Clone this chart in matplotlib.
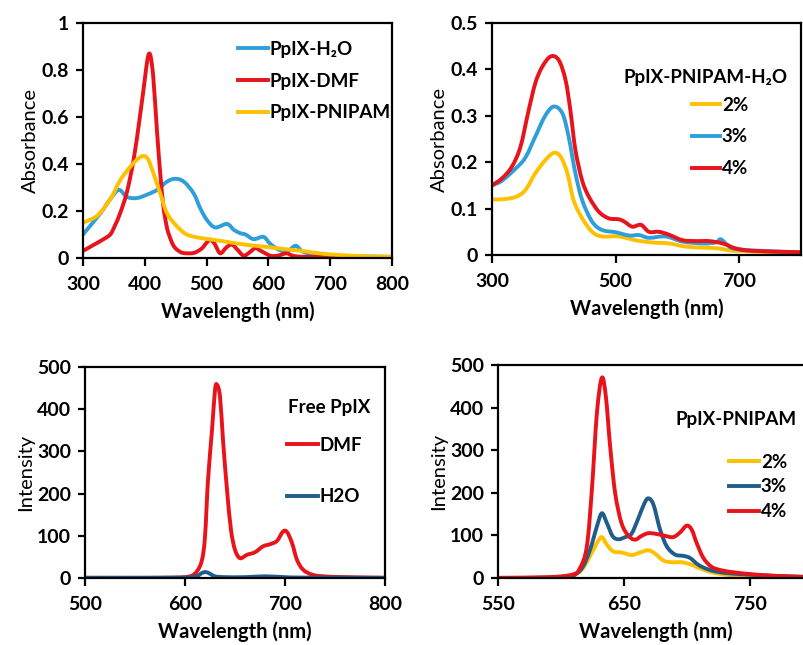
import matplotlib
matplotlib.use("Agg")
import numpy as np
import matplotlib.pyplot as plt
from matplotlib.path import Path
from matplotlib.patches import PathPatch
from matplotlib.lines import Line2D

plt.rcParams['font.family'] = ['Lato', 'DejaVu Sans']
plt.rcParams['font.size'] = 14

BLUE = '#2f9fdc'
RED = '#e8131b'
YELLOW = '#ffc000'
NAVY = '#1f5d8a'

# --- UV-vis absorbance of free PpIX ---
h2o_wl = [300, 328, 344, 358, 371, 387, 404, 420, 436, 449, 463, 479, 490, 501, 514, 533,
          544, 555, 563, 576, 592, 603, 617, 630, 644, 654, 668, 700, 750, 800]
h2o_abs = [0.10, 0.19, 0.25, 0.29, 0.26, 0.255, 0.27, 0.29, 0.325, 0.337, 0.325, 0.275, 0.21,
           0.16, 0.13, 0.145, 0.12, 0.105, 0.10, 0.08, 0.09, 0.06, 0.035, 0.028, 0.052, 0.03,
           0.017, 0.01, 0.007, 0.005]

dmf_wl = [300, 310, 320, 330, 344, 352, 360, 371, 382, 392, 400, 404, 407, 410, 414, 420,
          425, 430, 435, 439, 447, 458, 468, 480, 492, 500, 506, 513, 522, 532, 541, 550,
          560, 570, 579, 588, 603, 615, 624, 630, 637, 645, 660, 700, 750, 800]
dmf_abs = [0.03, 0.045, 0.06, 0.075, 0.10, 0.14, 0.19, 0.28, 0.42, 0.60, 0.76, 0.84, 0.87,
           0.85, 0.76, 0.53, 0.36, 0.22, 0.14, 0.10, 0.05, 0.025, 0.02, 0.022, 0.04, 0.065,
           0.078, 0.06, 0.02, 0.045, 0.057, 0.035, 0.01, 0.025, 0.042, 0.03, 0.01, 0.01, 0.017,
           0.02, 0.012, 0.007, 0.005, 0.004, 0.003, 0.002]

pnipam_wl = [300, 323, 344, 360, 377, 393, 404, 414, 425, 436, 452, 468, 490, 517, 544, 571,
             598, 625, 652, 679, 706, 750, 800]
pnipam_abs = [0.15, 0.18, 0.25, 0.33, 0.39, 0.43, 0.425, 0.36, 0.275, 0.19, 0.135, 0.10,
              0.085, 0.075, 0.064, 0.054, 0.047, 0.038, 0.031, 0.021, 0.014, 0.008, 0.005]

# --- UV-vis absorbance of PpIX-PNIPAM in water ---
abs_wl = [300, 316, 332, 346, 359, 370, 381, 395, 408, 419, 427, 435, 446, 457, 473, 489,
          505, 514, 527, 541, 554, 570, 586, 608, 630, 651, 673, 695, 722, 800]
abs_4 = [0.15, 0.165, 0.19, 0.233, 0.31, 0.37, 0.405, 0.428, 0.42, 0.377, 0.31, 0.226, 0.16,
         0.125, 0.093, 0.079, 0.077, 0.072, 0.061, 0.065, 0.05, 0.05, 0.044, 0.032, 0.03,
         0.03, 0.025, 0.014, 0.009, 0.006]

abs3_wl = [300, 316, 338, 354, 370, 386, 400, 414, 424, 435, 446, 462, 478, 500, 522, 538,
           554, 581, 608, 641, 662, 670, 681, 700, 800]
abs_3 = [0.15, 0.16, 0.186, 0.21, 0.255, 0.30, 0.32, 0.305, 0.255, 0.176, 0.118, 0.072,
         0.054, 0.049, 0.042, 0.043, 0.037, 0.04, 0.029, 0.025, 0.027, 0.034, 0.022, 0.012,
         0.005]

abs2_wl = [300, 316, 338, 354, 370, 386, 400, 411, 422, 432, 446, 462, 478, 505, 532, 559,
           586, 614, 641, 668, 695, 800]
abs_2 = [0.12, 0.12, 0.125, 0.14, 0.176, 0.204, 0.22, 0.212, 0.176, 0.118, 0.079, 0.05, 0.04,
         0.04, 0.032, 0.027, 0.025, 0.018, 0.016, 0.014, 0.009, 0.004]

# --- Fluorescence of free PpIX ---
fl_dmf_wl = [500, 550, 590, 605, 612, 617, 620, 623, 627, 630, 632, 635, 638, 642, 646, 650,
             655, 662, 670, 678, 685, 692, 698, 702, 707, 712, 718, 727, 738, 760, 800]
fl_dmf = [0.5, 0.5, 1, 4, 16, 43, 98, 232, 350, 445, 458, 430, 327, 209, 114, 67, 47, 55, 61,
          75, 80, 88, 110, 109, 83, 43, 20, 8, 4, 2, 0.5]

fl_h2o_wl = [500, 600, 612, 617, 621, 625, 630, 640, 660, 680, 700, 720, 800]
fl_h2o = [0.5, 1, 5, 12, 14, 10, 4, 2, 2, 4, 2, 1, 0.5]

# --- Fluorescence of PpIX-PNIPAM ---
fl4_wl = [550, 590, 609, 615, 620.5, 624.5, 628.5, 632.4, 635.6, 639, 643, 648, 653.6, 658.8,
          664, 669, 674.7, 682.6, 689, 694.5, 699.8, 703.8, 707.7, 713, 719.6, 727.5, 738,
          751, 770, 800]
fl_4 = [0.5, 2, 8, 23, 74, 207, 387, 470, 426, 309, 199, 129, 99, 90, 99, 105, 104, 99, 96,
        107, 123, 113, 82, 47, 26, 18, 13, 9, 5, 2]

fl3_wl = [550, 600, 608.6, 616.6, 623, 628.5, 632.4, 636.4, 641, 645.6, 651, 656, 661.5,
          666.3, 669.4, 673.4, 678.7, 684, 690.5, 697, 702.4, 709, 717, 727.5, 743, 770, 800]
fl_3 = [0, 1, 4, 23, 66, 121, 152, 129, 98, 91, 96, 104, 141, 176, 187, 172, 113, 74, 55, 52,
        47, 31, 20, 13, 9, 5, 2]

fl2_wl = [550, 600, 608.6, 616.6, 623, 628.5, 632.4, 636.4, 641.7, 648, 656, 662.8, 669.4,
          674.7, 681.3, 688, 695.8, 703.8, 711.7, 722, 738, 770, 800]
fl_2 = [0, 1, 4, 20, 51, 82, 96, 78, 62, 60, 54, 60, 65, 57, 41, 37, 37, 31, 21, 12, 6, 3, 1]

W, H = 804, 645
fig = plt.figure(figsize=(W / 100, H / 100), dpi=100)

LW = 2.8
FS_TICK = 14
FS_LEG = 13.5


def px_axes(left, top, right, bottom):
    return fig.add_axes([left / W, 1 - bottom / H, (right - left) / W, (bottom - top) / H])


def smooth_line(ax, x, y, color, label):
    # Excel-style smoothed line: cubic Bezier segments with Catmull-Rom tangents
    p = np.column_stack([x, y]).astype(float)
    t = np.empty_like(p)
    t[1:-1] = (p[2:] - p[:-2]) / 2
    t[0] = p[1] - p[0]
    t[-1] = p[-1] - p[-2]
    verts = [p[0]]
    codes = [Path.MOVETO]
    for i in range(len(p) - 1):
        verts += [p[i] + t[i] / 3, p[i + 1] - t[i + 1] / 3, p[i + 1]]
        codes += [Path.CURVE4] * 3
    ax.add_patch(PathPatch(Path(verts, codes), fill=False, edgecolor=color, lw=LW,
                           capstyle='round', joinstyle='round'))
    return Line2D([], [], color=color, lw=LW, label=label)


def style(ax, xlim, ylim, xticks, yticks, yfmt, ylabel):
    ax.set_xlim(*xlim)
    ax.set_ylim(*ylim)
    ax.set_xticks(xticks)
    ax.set_yticks(yticks)
    ax.set_xticklabels([str(t) for t in xticks], fontweight='bold', fontsize=FS_TICK)
    ax.set_yticklabels([yfmt(t) for t in yticks], fontweight='bold', fontsize=FS_TICK)
    for s in ax.spines.values():
        s.set_linewidth(1.6)
    ax.tick_params(axis='x', direction='out', length=6, width=1.6, pad=7)
    ax.tick_params(axis='y', direction='out', length=5, width=1.6, pad=5)
    ax.set_xlabel('Wavelength (nm)', fontweight='bold', fontsize=14.5, labelpad=6)
    ax.set_ylabel(ylabel, fontsize=14.5, labelpad=2)


def legend_at(ax, handles, x_left, y_mid, handle_px, labelspacing):
    fs_px = FS_LEG * 100 / 72
    ax.legend(handles=handles, loc='center left', bbox_to_anchor=(x_left / W, 1 - y_mid / H),
              bbox_transform=fig.transFigure, frameon=False, borderpad=0, borderaxespad=0,
              handlelength=handle_px / fs_px, handletextpad=0.1, labelspacing=labelspacing,
              prop={'weight': 'bold', 'size': FS_LEG})


def dec(t):
    return '0' if t == 0 else ('1' if t == 1 else f'{t:g}')


ax1 = px_axes(83, 23, 392, 258)
h = [smooth_line(ax1, h2o_wl, h2o_abs, BLUE, 'PpIX-H₂O'),
     smooth_line(ax1, dmf_wl, dmf_abs, RED, 'PpIX-DMF'),
     smooth_line(ax1, pnipam_wl, pnipam_abs, YELLOW, 'PpIX-PNIPAM')]
style(ax1, (300, 800), (0, 1), [300, 400, 500, 600, 700, 800],
      [0, 0.2, 0.4, 0.6, 0.8, 1], dec, 'Absorbance')
legend_at(ax1, h, 238, 81, 30, 0.78)

ax2 = px_axes(492, 23, 801, 255)
h = [smooth_line(ax2, abs2_wl, abs_2, YELLOW, '2%'),
     smooth_line(ax2, abs3_wl, abs_3, BLUE, '3%'),
     smooth_line(ax2, abs_wl, abs_4, RED, '4%')]
style(ax2, (300, 800), (0, 0.5), [300, 500, 700],
      [0, 0.1, 0.2, 0.3, 0.4, 0.5], dec, 'Absorbance')
legend_at(ax2, h, 692, 137, 28, 0.78)
fig.text(706 / W, 1 - 78 / H, 'PpIX-PNIPAM-H₂O', ha='center', va='center',
         fontweight='bold', fontsize=FS_LEG)

ax3 = px_axes(85, 367, 385, 578)
h = [smooth_line(ax3, fl_dmf_wl, fl_dmf, RED, 'DMF'),
     smooth_line(ax3, fl_h2o_wl, fl_h2o, NAVY, 'H2O')]
style(ax3, (500, 800), (0, 500), [500, 600, 700, 800],
      [0, 100, 200, 300, 400, 500], str, 'Intensity')
legend_at(ax3, h, 287, 471, 31, 1.85)
fig.text(288 / W, 1 - 407 / H, 'Free PpIX', ha='left', va='center',
         fontweight='bold', fontsize=FS_LEG)

ax4 = px_axes(498, 365, 813, 578)
h = [smooth_line(ax4, fl2_wl, fl_2, YELLOW, '2%'),
     smooth_line(ax4, fl3_wl, fl_3, NAVY, '3%'),
     smooth_line(ax4, fl4_wl, fl_4, RED, '4%')]
style(ax4, (550, 800), (0, 500), [550, 650, 750],
      [0, 100, 200, 300, 400, 500], str, 'Intensity')
legend_at(ax4, h, 729, 487, 30, 0.42)
fig.text(736 / W, 1 - 420 / H, 'PpIX-PNIPAM', ha='center', va='center',
         fontweight='bold', fontsize=FS_LEG)

fig.savefig('out.png', dpi=100)
